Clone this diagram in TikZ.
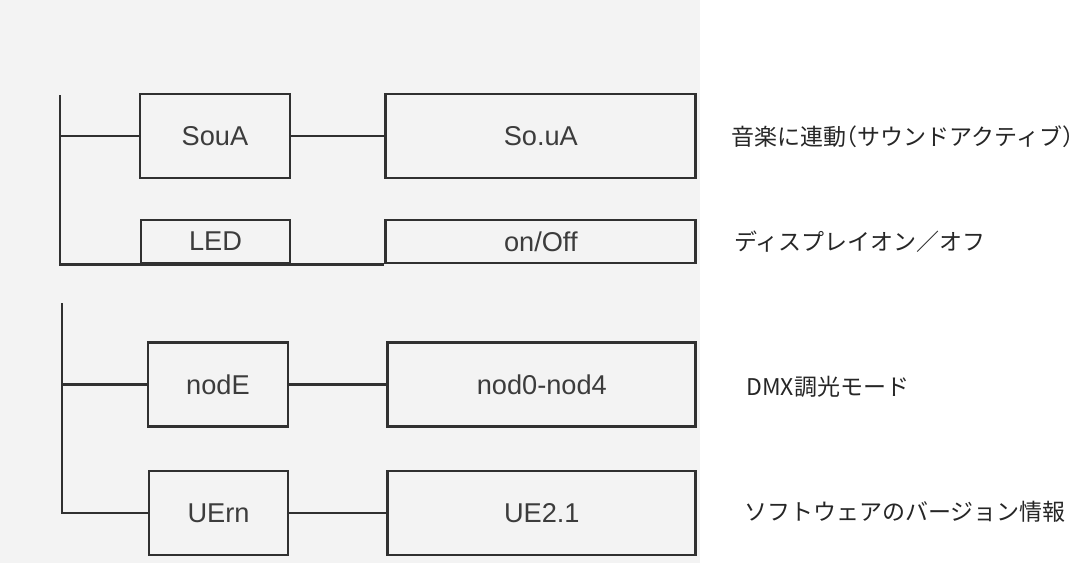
\documentclass[tikz,border=0pt]{standalone}
\usepackage{fontspec}
\setmainfont{Liberation Sans}
\newfontfamily\jpfont{Noto Sans CJK JP}
\usetikzlibrary{positioning}

\definecolor{scanline}{HTML}{303030}
\definecolor{scantext}{HTML}{3C3C3C}
\definecolor{scanpaper}{HTML}{F3F3F3}

\begin{document}
\begin{tikzpicture}[x=0.5pt, y=-0.5pt, line width=1.4pt, draw=scanline,
        menu/.style={draw=scanline, rectangle, inner sep=0pt, text=scantext, font=\fontsize{13.6}{16}\selectfont, minimum height=42pt},
        lowmenu/.style={menu, minimum height=21.5pt},
        note/.style={anchor=west, inner sep=0pt, text=black!85, font=\jpfont\fontsize{11.5}{14}\selectfont}]
        % Paper
        \fill[scanpaper] (0,0) rectangle (700,563);
        \useasboundingbox (0,0) rectangle (1086,563);

        % Nodes
        \node[menu, minimum width=75pt] (soua) at (215,136) {SouA};
        \node[menu, minimum width=155pt, right=46.5pt of soua] (souaval) {So.uA};
        \node[lowmenu, minimum width=74.5pt] (led) at (215.5,241.5) {LED};
        \node[lowmenu, minimum width=155pt, right=46.5pt of led] (onoff) {on/Off};
        \node[menu, minimum width=70pt] (mode) at (218,384.5) {nodE};
        \node[menu, minimum width=154pt, right=48.5pt of mode] (modeval) {nod0-nod4};
        \node[menu, minimum width=69.5pt] (vers) at (218.5,513) {UErn};
        \node[menu, minimum width=154pt, right=48.5pt of vers] (versval) {UE2.1};

        \coordinate (rail1) at (60,95);
        \coordinate (rail2) at (62,303);

        % Notes
        \node[note] (souanote) at (730,137) {音楽に連動\makebox[0.5em][r]{（}サウンドアクティブ\makebox[0.5em][l]{）}};
        \node[note] (lednote) at (733,242) {ディスプレイオン／オフ};
        \node[note] (modenote) at (745,387) {DMX調光モード};
        \node[note] (versnote) at (743,512) {ソフトウェアのバージョン情報};

        % Lines
        \draw (rail1) |- (onoff.south west);
        \draw (soua.west -| rail1) -- (soua.west);
        \draw (soua) -- (souaval);
        \draw (rail2) |- (vers.west);
        \draw (mode.west -| rail2) -- (mode.west);
        \draw (mode) -- (modeval);
        \draw (vers) -- (versval);
    \end{tikzpicture}
\end{document}
